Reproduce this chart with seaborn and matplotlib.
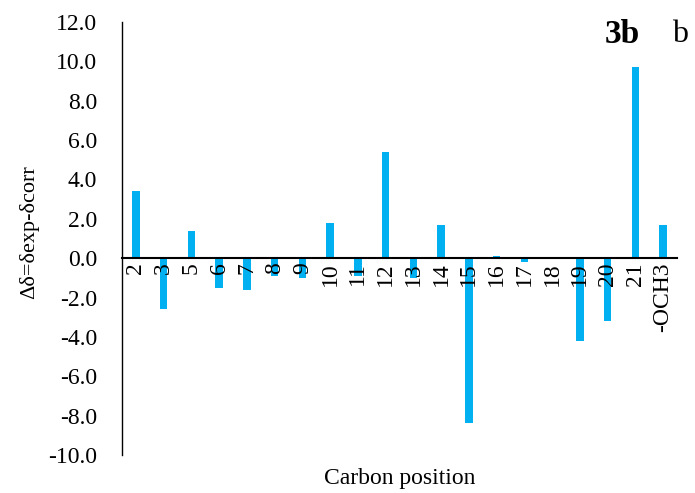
import numpy as np
import pandas as pd
import matplotlib
matplotlib.use('Agg')
import matplotlib.pyplot as plt
import seaborn as sns

# carbon positions and the deviation exp - corr
positions = ['2', '3', '5', '6', '7', '8', '9', '10', '11', '12', '13', '14',
             '15', '16', '17', '18', '19', '20', '21', '-OCH3']
delta = [3.4, -2.6, 1.4, -1.5, -1.6, -0.9, -1.0, 1.8, -0.9, 5.4, -1.0, 1.7,
         -8.4, 0.1, -0.2, 0.0, -4.2, -3.2, 9.7, 1.7]

df = pd.DataFrame({'pos': positions, 'delta': delta})

sns.set_style('white')
plt.rcParams['font.family'] = ['Liberation Serif', 'DejaVu Serif']
plt.rcParams.update({'text.color': 'black', 'axes.labelcolor': 'black',
                     'xtick.color': 'black', 'ytick.color': 'black'})

fig = plt.figure(figsize=(6.95, 4.93), dpi=100)
ax = fig.add_axes([0.1755, 0.0771, 0.7985, 0.8783])

sns.barplot(data=df, x='pos', y='delta', color='#00B0F0', width=0.27,
            saturation=1, linewidth=0, ax=ax)

ax.set_ylim(-10, 12)
ax.set_yticks(np.arange(-10, 12.1, 2))
ax.set_yticklabels([f'{v:.1f}' for v in np.arange(-10, 12.1, 2)], fontsize=17)
ax.set_xlim(-0.5, len(positions) - 0.5)

# category axis crosses at zero, labels drawn over the bars
ax.set_axisbelow(False)
ax.spines['bottom'].set_position(('data', 0))
ax.spines['top'].set_visible(False)
ax.spines['right'].set_visible(False)
for s in ['left', 'bottom']:
    ax.spines[s].set_color('black')
ax.spines['bottom'].set_linewidth(1.5)
ax.spines['left'].set_linewidth(1.0)

ax.tick_params(axis='x', length=0, pad=3, labelsize=17, labelrotation=90)
ax.tick_params(axis='y', length=0, pad=18)

ax.set_xlabel('Carbon position', fontsize=17)
ax.xaxis.set_label_coords(0.5, -0.03)
ax.set_ylabel('Δδ=δexp-δcorr', fontsize=16)
ax.yaxis.set_label_coords(-0.15, 0.515)

fig.text(0.921, 0.93, '3b', fontsize=24, fontweight='bold', ha='right', va='center')
fig.text(0.99, 0.93, 'b', fontsize=23, ha='right', va='center')

fig.savefig('out.png', dpi=100)
